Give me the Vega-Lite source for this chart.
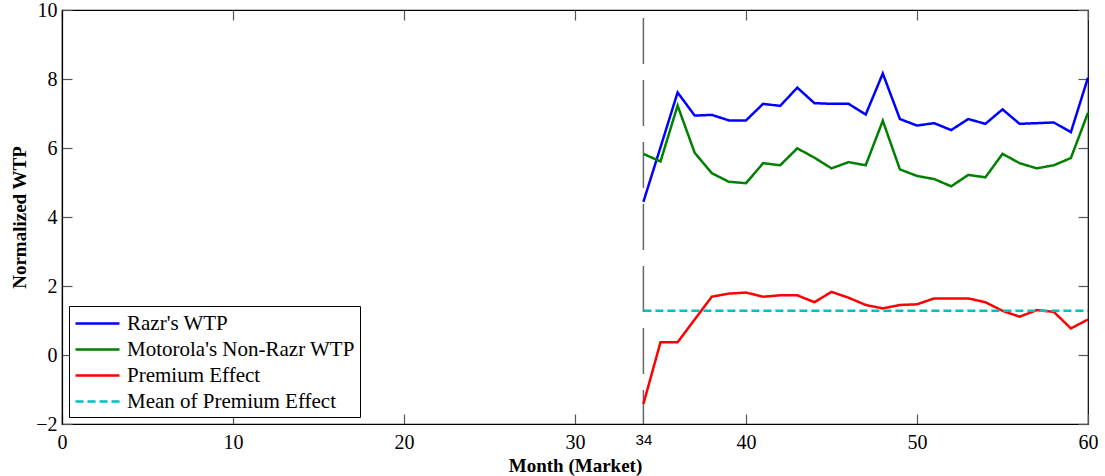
{
  "$schema": "https://vega.github.io/schema/vega-lite/v6.json",
  "width": 1026,
  "height": 414,
  "autosize": {"type": "none"},
  "padding": {"left": 62, "top": 10, "right": 17, "bottom": 52},
  "background": "white",
  "config": {
    "view": {"stroke": "black", "strokeWidth": 1.2},
    "axis": {
      "labelFont": "Liberation Serif", "labelFontSize": 20, "labelColor": "black",
      "titleFont": "Liberation Serif", "titleFontSize": 19, "titleFontWeight": "bold", "titleColor": "black",
      "domainColor": "black", "domainWidth": 1.2, "tickColor": "#555", "tickWidth": 1.2,
      "tickSize": -10, "grid": false
    },
    "legend": {
      "orient": "bottom-left", "offset": 7, "strokeColor": "black", "fillColor": "white",
      "padding": 5, "labelFont": "Liberation Serif", "labelFontSize": 21, "labelColor": "black",
      "symbolType": "M-1,0H3", "symbolStrokeWidth": 2.5, "symbolSize": 484, "rowPadding": 3,
      "labelOffset": 28, "labelLimit": 400
    }
  },
  "datasets": {
    "series": [
      {"month": 34, "series": "Razr's WTP", "value": 4.44},
      {"month": 35, "series": "Razr's WTP", "value": 6.02},
      {"month": 36, "series": "Razr's WTP", "value": 7.61},
      {"month": 37, "series": "Razr's WTP", "value": 6.94},
      {"month": 38, "series": "Razr's WTP", "value": 6.96},
      {"month": 39, "series": "Razr's WTP", "value": 6.80},
      {"month": 40, "series": "Razr's WTP", "value": 6.80},
      {"month": 41, "series": "Razr's WTP", "value": 7.28},
      {"month": 42, "series": "Razr's WTP", "value": 7.22},
      {"month": 43, "series": "Razr's WTP", "value": 7.75},
      {"month": 44, "series": "Razr's WTP", "value": 7.30},
      {"month": 45, "series": "Razr's WTP", "value": 7.28},
      {"month": 46, "series": "Razr's WTP", "value": 7.28},
      {"month": 47, "series": "Razr's WTP", "value": 6.97},
      {"month": 48, "series": "Razr's WTP", "value": 8.16},
      {"month": 49, "series": "Razr's WTP", "value": 6.84},
      {"month": 50, "series": "Razr's WTP", "value": 6.65},
      {"month": 51, "series": "Razr's WTP", "value": 6.72},
      {"month": 52, "series": "Razr's WTP", "value": 6.52},
      {"month": 53, "series": "Razr's WTP", "value": 6.84},
      {"month": 54, "series": "Razr's WTP", "value": 6.70},
      {"month": 55, "series": "Razr's WTP", "value": 7.12},
      {"month": 56, "series": "Razr's WTP", "value": 6.70},
      {"month": 57, "series": "Razr's WTP", "value": 6.72},
      {"month": 58, "series": "Razr's WTP", "value": 6.74},
      {"month": 59, "series": "Razr's WTP", "value": 6.46},
      {"month": 60, "series": "Razr's WTP", "value": 8.04},
      {"month": 34, "series": "Motorola's Non-Razr WTP", "value": 5.83},
      {"month": 35, "series": "Motorola's Non-Razr WTP", "value": 5.61},
      {"month": 36, "series": "Motorola's Non-Razr WTP", "value": 7.23},
      {"month": 37, "series": "Motorola's Non-Razr WTP", "value": 5.86},
      {"month": 38, "series": "Motorola's Non-Razr WTP", "value": 5.27},
      {"month": 39, "series": "Motorola's Non-Razr WTP", "value": 5.02},
      {"month": 40, "series": "Motorola's Non-Razr WTP", "value": 4.98},
      {"month": 41, "series": "Motorola's Non-Razr WTP", "value": 5.56},
      {"month": 42, "series": "Motorola's Non-Razr WTP", "value": 5.50},
      {"month": 43, "series": "Motorola's Non-Razr WTP", "value": 5.99},
      {"month": 44, "series": "Motorola's Non-Razr WTP", "value": 5.72},
      {"month": 45, "series": "Motorola's Non-Razr WTP", "value": 5.41},
      {"month": 46, "series": "Motorola's Non-Razr WTP", "value": 5.59},
      {"month": 47, "series": "Motorola's Non-Razr WTP", "value": 5.50},
      {"month": 48, "series": "Motorola's Non-Razr WTP", "value": 6.79},
      {"month": 49, "series": "Motorola's Non-Razr WTP", "value": 5.38},
      {"month": 50, "series": "Motorola's Non-Razr WTP", "value": 5.19},
      {"month": 51, "series": "Motorola's Non-Razr WTP", "value": 5.10},
      {"month": 52, "series": "Motorola's Non-Razr WTP", "value": 4.89},
      {"month": 53, "series": "Motorola's Non-Razr WTP", "value": 5.22},
      {"month": 54, "series": "Motorola's Non-Razr WTP", "value": 5.15},
      {"month": 55, "series": "Motorola's Non-Razr WTP", "value": 5.83},
      {"month": 56, "series": "Motorola's Non-Razr WTP", "value": 5.56},
      {"month": 57, "series": "Motorola's Non-Razr WTP", "value": 5.41},
      {"month": 58, "series": "Motorola's Non-Razr WTP", "value": 5.50},
      {"month": 59, "series": "Motorola's Non-Razr WTP", "value": 5.71},
      {"month": 60, "series": "Motorola's Non-Razr WTP", "value": 7.02},
      {"month": 34, "series": "Premium Effect", "value": -1.42},
      {"month": 35, "series": "Premium Effect", "value": 0.37},
      {"month": 36, "series": "Premium Effect", "value": 0.37},
      {"month": 37, "series": "Premium Effect", "value": 1.03},
      {"month": 38, "series": "Premium Effect", "value": 1.69},
      {"month": 39, "series": "Premium Effect", "value": 1.78},
      {"month": 40, "series": "Premium Effect", "value": 1.81},
      {"month": 41, "series": "Premium Effect", "value": 1.69},
      {"month": 42, "series": "Premium Effect", "value": 1.73},
      {"month": 43, "series": "Premium Effect", "value": 1.73},
      {"month": 44, "series": "Premium Effect", "value": 1.53},
      {"month": 45, "series": "Premium Effect", "value": 1.83},
      {"month": 46, "series": "Premium Effect", "value": 1.66},
      {"month": 47, "series": "Premium Effect", "value": 1.45},
      {"month": 48, "series": "Premium Effect", "value": 1.35},
      {"month": 49, "series": "Premium Effect", "value": 1.45},
      {"month": 50, "series": "Premium Effect", "value": 1.47},
      {"month": 51, "series": "Premium Effect", "value": 1.64},
      {"month": 52, "series": "Premium Effect", "value": 1.64},
      {"month": 53, "series": "Premium Effect", "value": 1.64},
      {"month": 54, "series": "Premium Effect", "value": 1.53},
      {"month": 55, "series": "Premium Effect", "value": 1.28},
      {"month": 56, "series": "Premium Effect", "value": 1.11},
      {"month": 57, "series": "Premium Effect", "value": 1.30},
      {"month": 58, "series": "Premium Effect", "value": 1.25},
      {"month": 59, "series": "Premium Effect", "value": 0.77},
      {"month": 60, "series": "Premium Effect", "value": 1.03},
      {"month": 34, "series": "Mean of Premium Effect", "value": 1.28},
      {"month": 60, "series": "Mean of Premium Effect", "value": 1.28}
    ],
    "launch": [{"month": 34, "top": 10, "bottom": -2}]
  },
  "layer": [
    {
      "data": {"name": "launch"},
      "mark": {"type": "rule", "color": "#666666", "strokeWidth": 1.5, "strokeDash": [46, 16], "strokeDashOffset": 54},
      "encoding": {
        "x": {"field": "month", "type": "quantitative", "scale": {"domain": [0, 60], "nice": false},
              "axis": {"orient": "top", "labels": false, "title": null, "values": [0, 10, 20, 30, 40, 50, 60], "domain": false}},
        "y": {"field": "top", "type": "quantitative", "scale": {"domain": [-2, 10], "nice": false},
              "axis": {"orient": "right", "labels": false, "title": null, "values": [-2, 0, 2, 4, 6, 8, 10], "domain": false}},
        "y2": {"field": "bottom"}
      }
    },
    {
      "data": {"name": "series"},
      "mark": {"type": "line", "strokeWidth": 2.5},
      "encoding": {
        "x": {"field": "month", "type": "quantitative", "scale": {"domain": [0, 60], "nice": false},
              "axis": {"orient": "bottom", "title": "Month (Market)", "titlePadding": 4,
                       "values": [0, 10, 20, 30, 34, 40, 50, 60], "labelPadding": 18, "labelFlush": false,
                       "labelFont": {"condition": {"test": "datum.value == 34", "value": "Liberation Sans"}, "value": "Liberation Serif"},
                       "labelFontSize": {"condition": {"test": "datum.value == 34", "value": 15}, "value": 20},
                       "tickOpacity": {"condition": {"test": "datum.value == 34", "value": 0}, "value": 1}}},
        "y": {"field": "value", "type": "quantitative", "scale": {"domain": [-2, 10], "nice": false},
              "axis": {"orient": "left", "title": "Normalized WTP", "values": [-2, 0, 2, 4, 6, 8, 10],
                       "labelPadding": 15, "titlePadding": 6, "labelFlush": false}},
        "color": {"field": "series", "type": "nominal", "title": null,
                  "legend": {"labelFont": "Liberation Serif", "labelFontSize": 21, "labelColor": "black"},
                  "scale": {"domain": ["Razr's WTP", "Motorola's Non-Razr WTP", "Premium Effect", "Mean of Premium Effect"],
                            "range": ["#0000ff", "#008000", "#ff0000", "#00bfbf"]}},
        "strokeDash": {"field": "series", "type": "nominal", "title": null,
                       "legend": {"labelFont": "Liberation Serif", "labelFontSize": 21, "labelColor": "black"},
                       "scale": {"domain": ["Razr's WTP", "Motorola's Non-Razr WTP", "Premium Effect", "Mean of Premium Effect"],
                                 "range": [[1, 0], [1, 0], [1, 0], [8, 4]]}},
        "order": {"field": "month", "type": "quantitative"}
      }
    }
  ],
  "resolve": {"axis": {"x": "independent", "y": "independent"}}
}
